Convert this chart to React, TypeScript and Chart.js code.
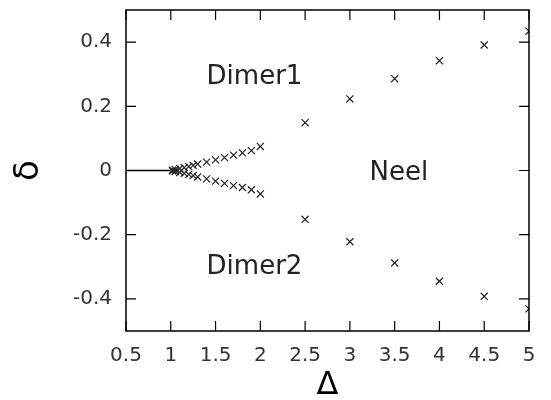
import React, { useEffect, useRef } from "react";
import { Chart, registerables } from "chart.js";

Chart.register(...registerables);

const deltaValues = [1.02, 1.05, 1.1, 1.15, 1.2, 1.25, 1.3, 1.4, 1.5, 1.6, 1.7, 1.8, 1.9, 2.0, 2.5, 3.0, 3.5, 4.0, 4.5, 5.0];
const dimer1Values = [0.001, 0.003, 0.006, 0.009, 0.012, 0.016, 0.02, 0.026, 0.033, 0.04, 0.048, 0.055, 0.062, 0.075, 0.149, 0.223, 0.286, 0.342, 0.391, 0.434];
const dimer2Values = [-0.001, -0.003, -0.006, -0.009, -0.012, -0.016, -0.02, -0.026, -0.033, -0.04, -0.047, -0.053, -0.06, -0.073, -0.152, -0.222, -0.288, -0.345, -0.392, -0.431];
const lineX = [0.5, 1.0];
const lineY = [0, 0];
const xTicks = [0.5, 1, 1.5, 2, 2.5, 3, 3.5, 4, 4.5, 5];
const yTicks = [-0.4, -0.2, 0, 0.2, 0.4];
const regionLabels = ["Dimer1", "Dimer2", "Neel"];
const regionX = [1.4, 1.4, 3.22];
const regionY = [0.292, -0.302, -0.01];

const FONT = "'DejaVu Sans', sans-serif";

const framePlugin = {
  id: "frame",
  afterDraw(chart: any) {
    const { ctx, chartArea } = chart;
    const xs = chart.scales.x;
    const ys = chart.scales.y;
    const { left, right, top, bottom } = chartArea;
    ctx.save();
    ctx.strokeStyle = "#000";
    ctx.lineWidth = 1.5;
    ctx.strokeRect(left, top, right - left, bottom - top);
    ctx.lineWidth = 1.2;
    const tl = 10;
    ctx.beginPath();
    xTicks.forEach((v) => {
      const px = xs.getPixelForValue(v);
      ctx.moveTo(px, bottom);
      ctx.lineTo(px, bottom - tl);
      ctx.moveTo(px, top);
      ctx.lineTo(px, top + tl);
    });
    yTicks.forEach((v) => {
      const py = ys.getPixelForValue(v);
      ctx.moveTo(left, py);
      ctx.lineTo(left + tl, py);
      ctx.moveTo(right, py);
      ctx.lineTo(right - tl, py);
    });
    ctx.stroke();
    ctx.fillStyle = "#222";
    ctx.font = `26px ${FONT}`;
    ctx.textAlign = "left";
    ctx.textBaseline = "middle";
    regionLabels.forEach((t, i) => {
      ctx.fillText(t, xs.getPixelForValue(regionX[i]), ys.getPixelForValue(regionY[i]));
    });
    ctx.restore();
  },
};

export default function App() {
  const ref = useRef<HTMLCanvasElement>(null);
  useEffect(() => {
    if (!ref.current) return;
    const chart = new Chart(ref.current, {
      type: "scatter",
      data: {
        datasets: [
          {
            type: "line",
            data: lineX.map((x, i) => ({ x, y: lineY[i] })),
            borderColor: "#000",
            borderWidth: 1.5,
            pointRadius: 0,
            showLine: true,
          } as any,
          {
            data: deltaValues.map((x, i) => ({ x, y: dimer1Values[i] })),
            pointStyle: "crossRot",
            pointRadius: 5,
            borderColor: "#222",
            borderWidth: 1.2,
            backgroundColor: "#222",
          },
          {
            data: deltaValues.map((x, i) => ({ x, y: dimer2Values[i] })),
            pointStyle: "crossRot",
            pointRadius: 5,
            borderColor: "#222",
            borderWidth: 1.2,
            backgroundColor: "#222",
          },
        ],
      },
      options: {
        animation: false,
        responsive: false,
        layout: { padding: { top: 10, right: 22, left: 0, bottom: 0 } },
        plugins: { legend: { display: false }, tooltip: { enabled: false } },
        scales: {
          x: {
            type: "linear",
            min: 0.5,
            max: 5,
            afterBuildTicks: (s: any) => {
              s.ticks = xTicks.map((v) => ({ value: v }));
            },
            afterFit: (s: any) => {
              s.height = 69;
              s.paddingLeft = 0;
              s.paddingRight = 0;
            },
            grid: { display: false, drawTicks: false },
            border: { display: false },
            ticks: {
              padding: 13,
              color: "#333",
              font: { family: FONT, size: 20 },
              maxRotation: 0,
              autoSkip: false,
              callback: (v: any) => String(Number(Number(v).toFixed(1))),
            },
            title: {
              display: true,
              text: "Δ",
              color: "#000",
              font: { family: FONT, size: 32, lineHeight: 0.88 },
              padding: { top: 0, bottom: 0 },
            },
          },
          y: {
            type: "linear",
            min: -0.5,
            max: 0.5,
            afterBuildTicks: (s: any) => {
              s.ticks = yTicks.map((v) => ({ value: v }));
            },
            afterFit: (s: any) => {
              s.width = 126;
              s.paddingTop = 0;
              s.paddingBottom = 0;
            },
            grid: { display: false, drawTicks: false },
            border: { display: false },
            ticks: {
              padding: 14,
              color: "#333",
              font: { family: FONT, size: 20 },
              autoSkip: false,
              callback: (v: any) => String(Number(Number(v).toFixed(1))),
            },
            title: {
              display: true,
              text: "δ",
              color: "#000",
              font: { family: FONT, size: 34, lineHeight: 1 },
              padding: { top: 12, bottom: 0 },
            },
          },
        },
      },
      plugins: [framePlugin],
    });
    return () => chart.destroy();
  }, []);
  return (
    <div style={{ position: "absolute", left: 0, top: 0, width: 551, height: 400, background: "#fff" }}>
      <canvas ref={ref} width={551} height={400} style={{ display: "block" }} />
    </div>
  );
}
